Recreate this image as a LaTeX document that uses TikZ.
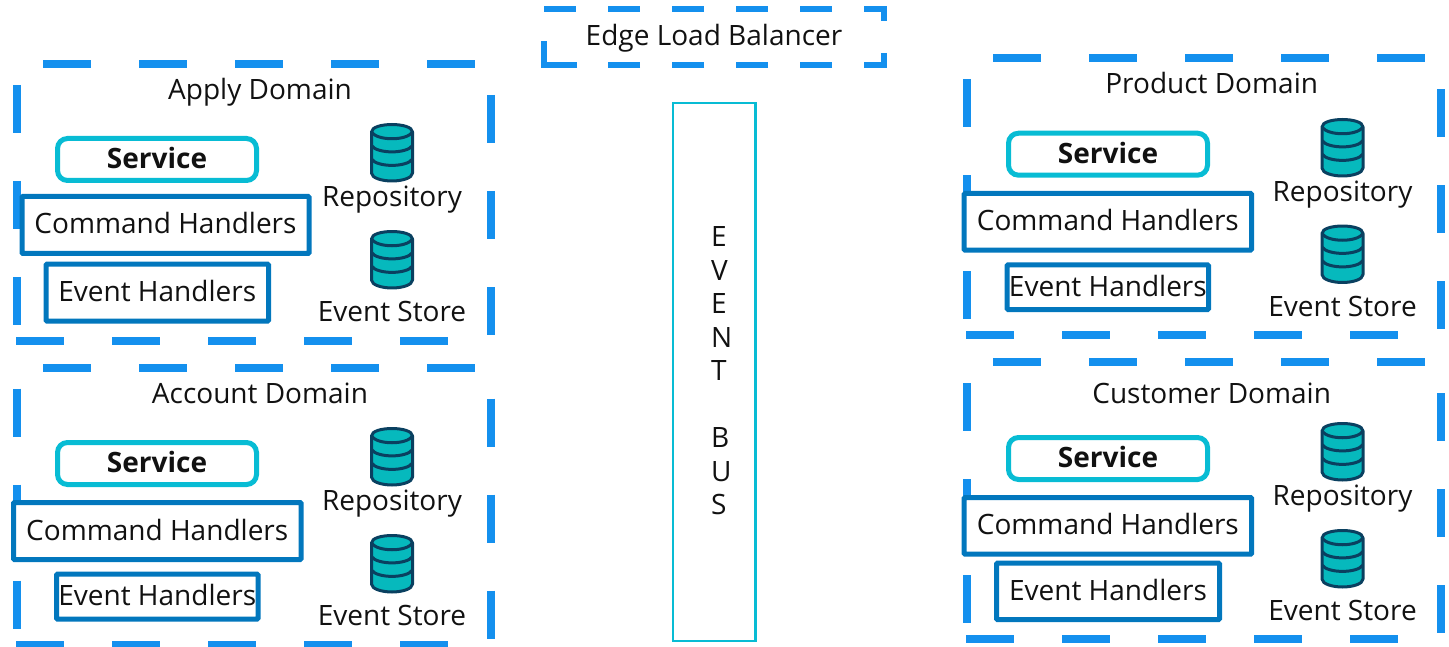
\documentclass[tikz,border=0pt]{standalone}
\usepackage{fontspec}
\setmainfont{Open Sans}
\definecolor{dashblue}{HTML}{1490EE}
\definecolor{svccyan}{HTML}{08BCD4}
\definecolor{hdlblue}{HTML}{0277BD}
\definecolor{dbfill}{HTML}{06B9BD}
\definecolor{dbline}{HTML}{0A4060}
\definecolor{inktext}{HTML}{111111}
\tikzset{
  lbl/.style={font=\fontsize{28}{34}\selectfont,text=inktext,inner sep=0pt,anchor=base},
  framedash/.style={draw=dashblue,line width=8pt,dash pattern=on 48pt off 48pt},
  edgedash/.style={draw=dashblue,line width=5.5pt,dash pattern=on 32pt off 32pt,line join=miter},
  edgesolid/.style={draw=dashblue,line width=5.5pt,line join=miter},
  boxtext/.style={font=\fontsize{28}{34}\selectfont,text=inktext,inner sep=0pt,text height=22pt,text depth=4pt,align=center},
  handler/.style={boxtext,draw=hdlblue,fill=white,line width=5pt,rounded corners=1pt},
  service/.style={boxtext,draw=svccyan,fill=white,line width=5pt,rounded corners=10pt},
  busbox/.style={draw=svccyan,fill=white,line width=2.5pt,inner sep=0pt},
  dbicon/.pic={
    \path[draw=dbline,fill=dbfill,line width=3pt,line join=round]
      (-20.5,0) -- (-20.5,41) .. controls (-20.5,46) and (-10,49) .. (0,49)
      .. controls (10,49) and (20.5,46) .. (20.5,41) -- (20.5,0)
      .. controls (20.5,-5) and (10,-7.5) .. (0,-7.5)
      .. controls (-10,-7.5) and (-20.5,-5) .. (-20.5,0) -- cycle;
    \path[draw=dbline,line width=3pt]
      (-20.5,0) .. controls (-15,9) and (15,9) .. (20.5,0)
      (-20.5,13.5) .. controls (-15,22) and (15,22) .. (20.5,13.5)
      (-20.5,27) .. controls (-15,35.5) and (15,35.5) .. (20.5,27);
  }
}
% #1 name, #2 x0, #3 y0, #4 x1, #5 y1 (outer edges), #6 style, #7 text
\newcommand\placebox[7]{%
  \pgfmathsetmacro\bxw{#4-#2-5}\pgfmathsetmacro\bxh{#5-#3-5}%
  \pgfmathsetmacro\bxx{(#2+#4)/2}\pgfmathsetmacro\bxy{(#3+#5)/2}%
  \node[#6,minimum width=\bxw pt,minimum height=\bxh pt] (#1) at (\bxx,\bxy) {#7};%
}
\newcommand\domainframe[2]{%
  \begin{scope}[shift={(#1,#2)}]
    \path[framedash] (43,64) -- (475,64);
    \path[framedash] (491,95) -- (491,335);
    \path[framedash] (16,341) -- (448,341);
    \path[framedash] (16.5,85) -- (16.5,325);
  \end{scope}%
}
\begin{document}
\begin{tikzpicture}[x=1pt,y=-1pt]
\useasboundingbox (0,0) rectangle (1449,647);
% domain frames
\domainframe{0}{0}
\domainframe{0}{303.7}
\domainframe{950.3}{-5.7}
\domainframe{950.3}{298.3}
% edge load balancer
\path[edgedash] (544,9) -- (884,9) -- (884,65) -- (577,65);
\path[edgesolid] (577,65) -- (544,65) -- (544,41);
\node[lbl] (edge) at (714,45.7) {Edge Load Balancer};
% event bus
\node[busbox,minimum width=82.5pt,minimum height=538pt] (bus) at (714.2,372) {};
\node[font=\fontsize{28}{33.5}\selectfont,text=inktext,inner sep=0pt,align=left,anchor=north west] (buslabel) at (711,226.7)
  {E\\V\\E\\N\\T\\ \\B\\U\\S};
% apply domain
\node[lbl] (applyT) at (260,100) {Apply Domain};
\placebox{applyS}{55}{136}{259}{183}{service}{\textbf{Service}}
\placebox{applyC}{19.5}{194}{311.5}{256}{handler}{Command Handlers}
\placebox{applyE}{43.5}{261.7}{271}{323.5}{handler}{Event Handlers}
\pic at (392,132) {dbicon};
\node[lbl] (applyR) at (392,206.7) {Repository};
\pic at (392,239) {dbicon};
\node[lbl] (applyV) at (392,321.7) {Event Store};
% account domain
\node[lbl] (accT) at (260,403.3) {Account Domain};
\placebox{accS}{55}{440}{259}{487}{service}{\textbf{Service}}
\placebox{accC}{11}{500}{303.5}{562}{handler}{Command Handlers}
\placebox{accE}{54}{571.7}{260.5}{621.5}{handler}{Event Handlers}
\pic at (392,436) {dbicon};
\node[lbl] (accR) at (392,510.7) {Repository};
\pic at (392,543) {dbicon};
\node[lbl] (accV) at (392,625.7) {Event Store};
% product domain
\node[lbl] (prodT) at (1211.7,93.3) {Product Domain};
\placebox{prodS}{1006}{130.7}{1210}{177.7}{service}{\textbf{Service}}
\placebox{prodC}{961.7}{191}{1254}{252.7}{handler}{Command Handlers}
\placebox{prodE}{1004.7}{262.3}{1211}{312}{handler}{Event Handlers}
\pic at (1342.5,127) {dbicon};
\node[lbl] (prodR) at (1342.5,201.7) {Repository};
\pic at (1342.5,233.5) {dbicon};
\node[lbl] (prodV) at (1342.5,316.3) {Event Store};
% customer domain
\node[lbl] (custT) at (1211.7,403.3) {Customer Domain};
\placebox{custS}{1006}{435}{1210}{482}{service}{\textbf{Service}}
\placebox{custC}{961.7}{495}{1254}{556.7}{handler}{Command Handlers}
\placebox{custE}{994}{560.7}{1222}{622}{handler}{Event Handlers}
\pic at (1342.5,431) {dbicon};
\node[lbl] (custR) at (1342.5,505.7) {Repository};
\pic at (1342.5,538) {dbicon};
\node[lbl] (custV) at (1342.5,620.7) {Event Store};
\end{tikzpicture}
\end{document}
